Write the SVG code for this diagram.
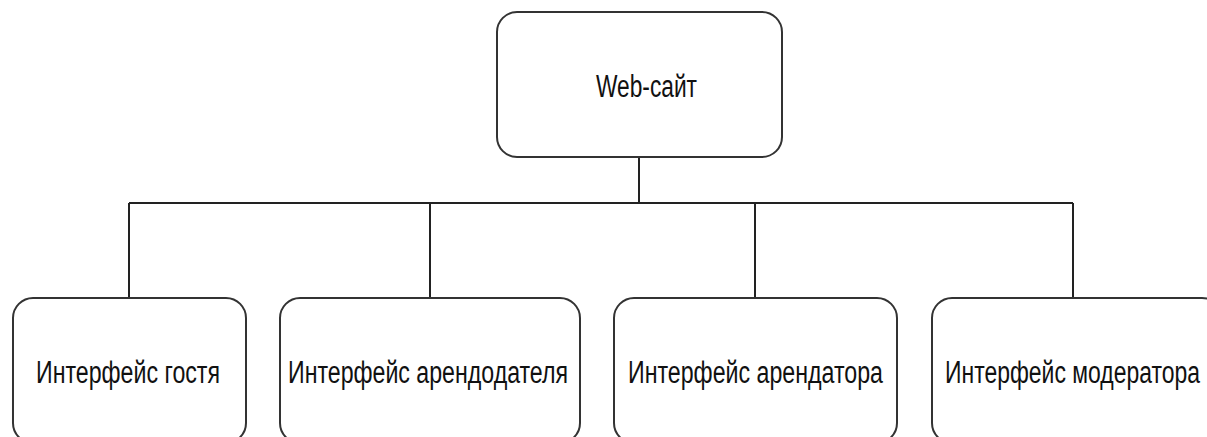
<svg xmlns="http://www.w3.org/2000/svg" width="1207" height="437" viewBox="0 0 1207 437">
  <style>
    .box { fill: #ffffff; stroke: #333333; stroke-width: 2; }
    .link { fill: none; stroke: #222222; stroke-width: 2; }
    .label { font-family: "Liberation Sans", Arial, sans-serif; font-size: 31px; fill: #111111; }
  </style>
  <rect width="1207" height="437" fill="#ffffff"/>

  <g id="connectors">
    <path class="link" d="M639 157 V203"/>
    <path class="link" d="M129 203 H1073"/>
    <path class="link" d="M129 203 V298"/>
    <path class="link" d="M430 203 V298"/>
    <path class="link" d="M755 203 V298"/>
    <path class="link" d="M1073 203 V298"/>
  </g>

  <g id="node-website">
    <rect class="box" x="497" y="12" width="285" height="145" rx="20" ry="20"/>
    <text class="label" x="596" y="97" textLength="101" lengthAdjust="spacingAndGlyphs">Web-сайт</text>
  </g>

  <g id="node-guest">
    <rect class="box" x="13" y="298" width="233" height="145" rx="20" ry="20"/>
    <text class="label" x="36" y="383" textLength="184" lengthAdjust="spacingAndGlyphs">Интерфейс гостя</text>
  </g>

  <g id="node-landlord">
    <rect class="box" x="280" y="298" width="300" height="145" rx="20" ry="20"/>
    <text class="label" x="288" y="383" textLength="280" lengthAdjust="spacingAndGlyphs">Интерфейс арендодателя</text>
  </g>

  <g id="node-tenant">
    <rect class="box" x="614" y="298" width="283" height="145" rx="20" ry="20"/>
    <text class="label" x="628" y="383" textLength="255" lengthAdjust="spacingAndGlyphs">Интерфейс арендатора</text>
  </g>

  <g id="node-moderator">
    <rect class="box" x="932" y="298" width="290" height="145" rx="20" ry="20"/>
    <text class="label" x="945" y="383" textLength="255" lengthAdjust="spacingAndGlyphs">Интерфейс модератора</text>
  </g>
</svg>
